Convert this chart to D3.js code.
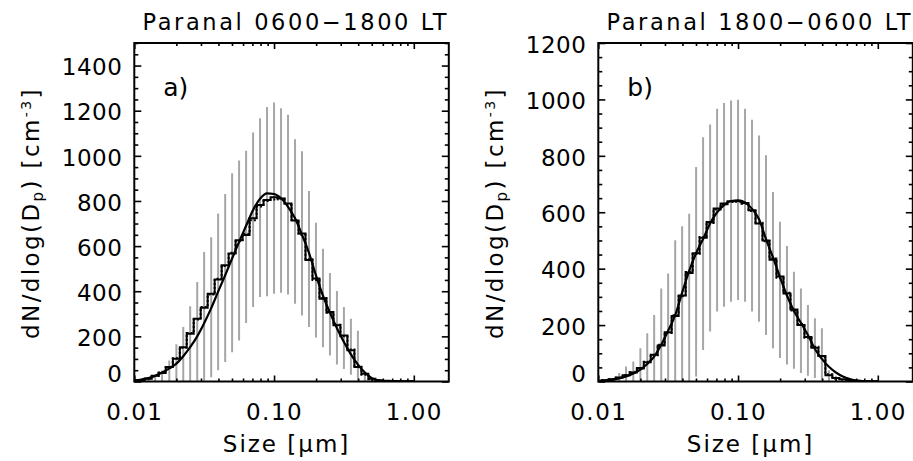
<!DOCTYPE html>
<meta charset="utf-8">
<style>
body { margin: 0; background: #fff; }
text { font-family: "DejaVu Sans", sans-serif; fill: #000; }
.tick line { stroke: #000; stroke-width: 1.6; }
.domain { display: none; }
</style>
<svg width="913" height="461"></svg>
<script src="https://cdn.jsdelivr.net/npm/d3@7"></script>
<script>

// bin centres, 20 per decade [um]
var sizes = [0.0100, 0.0112, 0.0126, 0.0141, 0.0158, 0.0178, 0.0200, 0.0224, 0.0251, 0.0282,
             0.0316, 0.0355, 0.0398, 0.0447, 0.0501, 0.0562, 0.0631, 0.0708, 0.0794, 0.0891,
             0.1000, 0.1122, 0.1259, 0.1413, 0.1585, 0.1778, 0.1995, 0.2239, 0.2512, 0.2818,
             0.3162, 0.3548, 0.3981, 0.4467, 0.5012, 0.5623, 0.6310, 0.7079, 0.7943, 0.8913, 1.0000];

// a) 0600-1800 LT
var dayMean   = [4,7,12,25,38,64,101,152,212,278,327,389,452,515,567,626,649,723,782,804,816,811,789,713,656,538,456,367,308,249,204,138,64,34,12,5,3,2,1,1,1];
var dayDotted = [4,7,12,24,40,62,103,150,215,275,330,385,455,512,570,622,655,715,776,800,806,810,782,716,650,542,450,370,305,252,200,142,70,30,10,4,2,1,1,1,1];
var dayHigh   = [3,6,10,22,49,93,165,242,333,441,574,639,745,831,923,979,1022,1103,1167,1216,1236,1211,1182,1074,1020,844,704,588,481,401,330,278,225,41,15];
var dayLow    = [0,0,0,0,0,0,0,0,0,0,4,19,50,86,130,182,259,330,375,378,389,393,386,345,293,241,195,152,115,75,55,30,4,0,0];
var dayFit    = [5,9,15,25,40,58,79,112,152,200,258,325,398,471,545,619,690,760,810,834,831,812,774,723,650,570,470,380,305,236,175,120,75,40,15,4,0,0,0,0,0];

// b) 1800-0600 LT
var nightMean   = [2,4,8,14,22,32,48,68,95,128,175,232,305,385,455,510,565,613,631,639,640,633,607,560,500,432,372,312,255,200,158,120,90,22,12,8,5,3,2,1,1];
var nightDotted = [2,4,8,13,23,33,46,70,93,130,172,235,302,388,452,512,562,610,628,636,637,630,604,563,497,436,368,315,252,204,155,123,86,26,10,6,4,2,1,1,1];
var nightHigh   = [3,6,12,30,53,71,118,171,236,330,383,501,550,595,760,866,911,967,987,996,999,967,928,872,802,672,566,480,389,330,271,224,189,40,20];
var nightLow    = [0,0,0,0,0,0,0,0,0,0,0,0,0,0,18,112,177,248,265,283,289,283,248,212,165,118,83,60,45,30,20,12,5,0,0];
var nightFit    = [1,3,6,11,18,28,42,62,88,130,180,235,315,392,455,505,560,600,625,640,642,635,612,575,505,440,370,305,250,208,165,115,80,52,32,18,9,3,0,0,0];

var xTicks = [0.01, 0.1, 1];
var xMinor = [0.02,0.03,0.04,0.05,0.06,0.07,0.08,0.09,0.2,0.3,0.4,0.5,0.6,0.7,0.8,0.9];

var svg = d3.select("svg");

function panel(o) {
  var top = 43, bottom = 381.5, left = o.left, right = o.left + 314.5;

  var x = d3.scaleLog().domain([0.01, 1.78]).range([left, right]);
  var y = d3.scaleLinear().domain([0, o.ymax]).range([bottom, top]);

  var major = d3.range(0, o.ymax + 1, 200);
  var minor = d3.range(0, o.ymax + 1, 50).filter(function(v) { return v % 200; });

  var g = svg.append("g");

  g.append("clipPath").attr("id", "clip" + o.id)
    .append("rect").attr("x", left).attr("y", top)
    .attr("width", right - left).attr("height", bottom - top);

  var plot = g.append("g").attr("clip-path", "url(#clip" + o.id + ")");

  // grey spread bars
  plot.selectAll("line.bar")
    .data(o.high.map(function(h, i) { return {s: sizes[i], lo: o.low[i], hi: h}; }))
    .enter().append("line")
      .attr("class", "bar")
      .attr("x1", function(d) { return x(d.s); })
      .attr("x2", function(d) { return x(d.s); })
      .attr("y1", function(d) { return y(d.lo); })
      .attr("y2", function(d) { return y(d.hi); })
      .attr("stroke", "#a6a6a6")
      .attr("stroke-width", 2);

  var step = d3.line()
      .x(function(d, i) { return x(sizes[i]); })
      .y(function(d) { return y(d); })
      .curve(d3.curveStep);

  plot.append("path").datum(o.dotted)
    .attr("d", step).attr("fill", "none")
    .attr("stroke", "#000").attr("stroke-width", 2)
    .attr("stroke-dasharray", "2,2");

  plot.append("path").datum(o.mean)
    .attr("d", step).attr("fill", "none")
    .attr("stroke", "#000").attr("stroke-width", 2);

  var smooth = d3.line()
      .x(function(d, i) { return x(sizes[i]); })
      .y(function(d) { return y(d); })
      .curve(d3.curveMonotoneX);

  plot.append("path").datum(o.fit)
    .attr("d", smooth).attr("fill", "none")
    .attr("stroke", "#000").attr("stroke-width", 2.2);

  // axes, ticks pointing inward
  var yl = g.append("g").attr("transform", "translate(" + left + ",0)")
    .call(d3.axisLeft(y).tickValues(major).tickSize(-7).tickSizeOuter(0)
      .tickPadding(12).tickFormat(d3.format("d")));
  yl.selectAll("text").style("font-size", "23px").style("letter-spacing", "0.5px")
    .attr("dy", function(d) { return d === 0 ? "0.02em" : "0.4em"; });

  g.append("g").attr("transform", "translate(" + left + ",0)")
    .call(d3.axisLeft(y).tickValues(minor).tickSize(-4).tickSizeOuter(0).tickFormat(""));
  g.append("g").attr("transform", "translate(" + right + ",0)")
    .call(d3.axisRight(y).tickValues(major).tickSize(-7).tickSizeOuter(0).tickFormat(""));
  g.append("g").attr("transform", "translate(" + right + ",0)")
    .call(d3.axisRight(y).tickValues(minor).tickSize(-4).tickSizeOuter(0).tickFormat(""));

  var xb = g.append("g").attr("transform", "translate(0," + bottom + ")")
    .call(d3.axisBottom(x).tickValues(xTicks).tickSize(-6).tickSizeOuter(0)
      .tickPadding(22).tickFormat(d3.format(".2f")));
  xb.selectAll("text").style("font-size", "23px").style("letter-spacing", "1.5px");

  g.append("g").attr("transform", "translate(0," + bottom + ")")
    .call(d3.axisBottom(x).tickValues(xMinor).tickSize(-3).tickSizeOuter(0).tickFormat(""));
  g.append("g").attr("transform", "translate(0," + top + ")")
    .call(d3.axisTop(x).tickValues(xTicks).tickSize(-6).tickSizeOuter(0).tickFormat(""));
  g.append("g").attr("transform", "translate(0," + top + ")")
    .call(d3.axisTop(x).tickValues(xMinor).tickSize(-3).tickSizeOuter(0).tickFormat(""));

  g.append("rect")
    .attr("x", left).attr("y", top)
    .attr("width", right - left).attr("height", bottom - top)
    .attr("fill", "none").attr("stroke", "#000").attr("stroke-width", 2);

  // titles and labels
  g.append("text")
    .attr("x", (left + right) / 2 + 3).attr("y", 30)
    .attr("text-anchor", "middle")
    .attr("textLength", 304).attr("lengthAdjust", "spacing")
    .style("font-size", "22.5px")
    .text(o.title);

  g.append("text")
    .attr("x", left + 29).attr("y", 96)
    .style("font-size", "25px")
    .text(o.tag);

  g.append("text")
    .attr("x", (left + right) / 2 - 5).attr("y", 452)
    .attr("text-anchor", "middle")
    .style("font-size", "23px").style("letter-spacing", "2px")
    .text("Size [\u03bcm]");

  var yt = g.append("text")
    .attr("transform", "translate(" + (left - 95) + ",213) rotate(-90)")
    .attr("text-anchor", "middle")
    .style("font-size", "23px").style("letter-spacing", "2.4px");
  yt.append("tspan").text("dN/dlog(D");
  yt.append("tspan").attr("baseline-shift", "-25%").style("font-size", "15px").text("p");
  yt.append("tspan").text(")  [cm");
  yt.append("tspan").attr("baseline-shift", "55%").style("font-size", "14px").text("-3");
  yt.append("tspan").text("]");
}

panel({id: "a", left: 134.3, ymax: 1500, title: "Paranal 0600\u22121800 LT", tag: "a)",
       mean: dayMean, dotted: dayDotted, high: dayHigh, low: dayLow, fit: dayFit});
panel({id: "b", left: 598.3, ymax: 1200, title: "Paranal 1800\u22120600 LT", tag: "b)",
       mean: nightMean, dotted: nightDotted, high: nightHigh, low: nightLow, fit: nightFit});

</script>
